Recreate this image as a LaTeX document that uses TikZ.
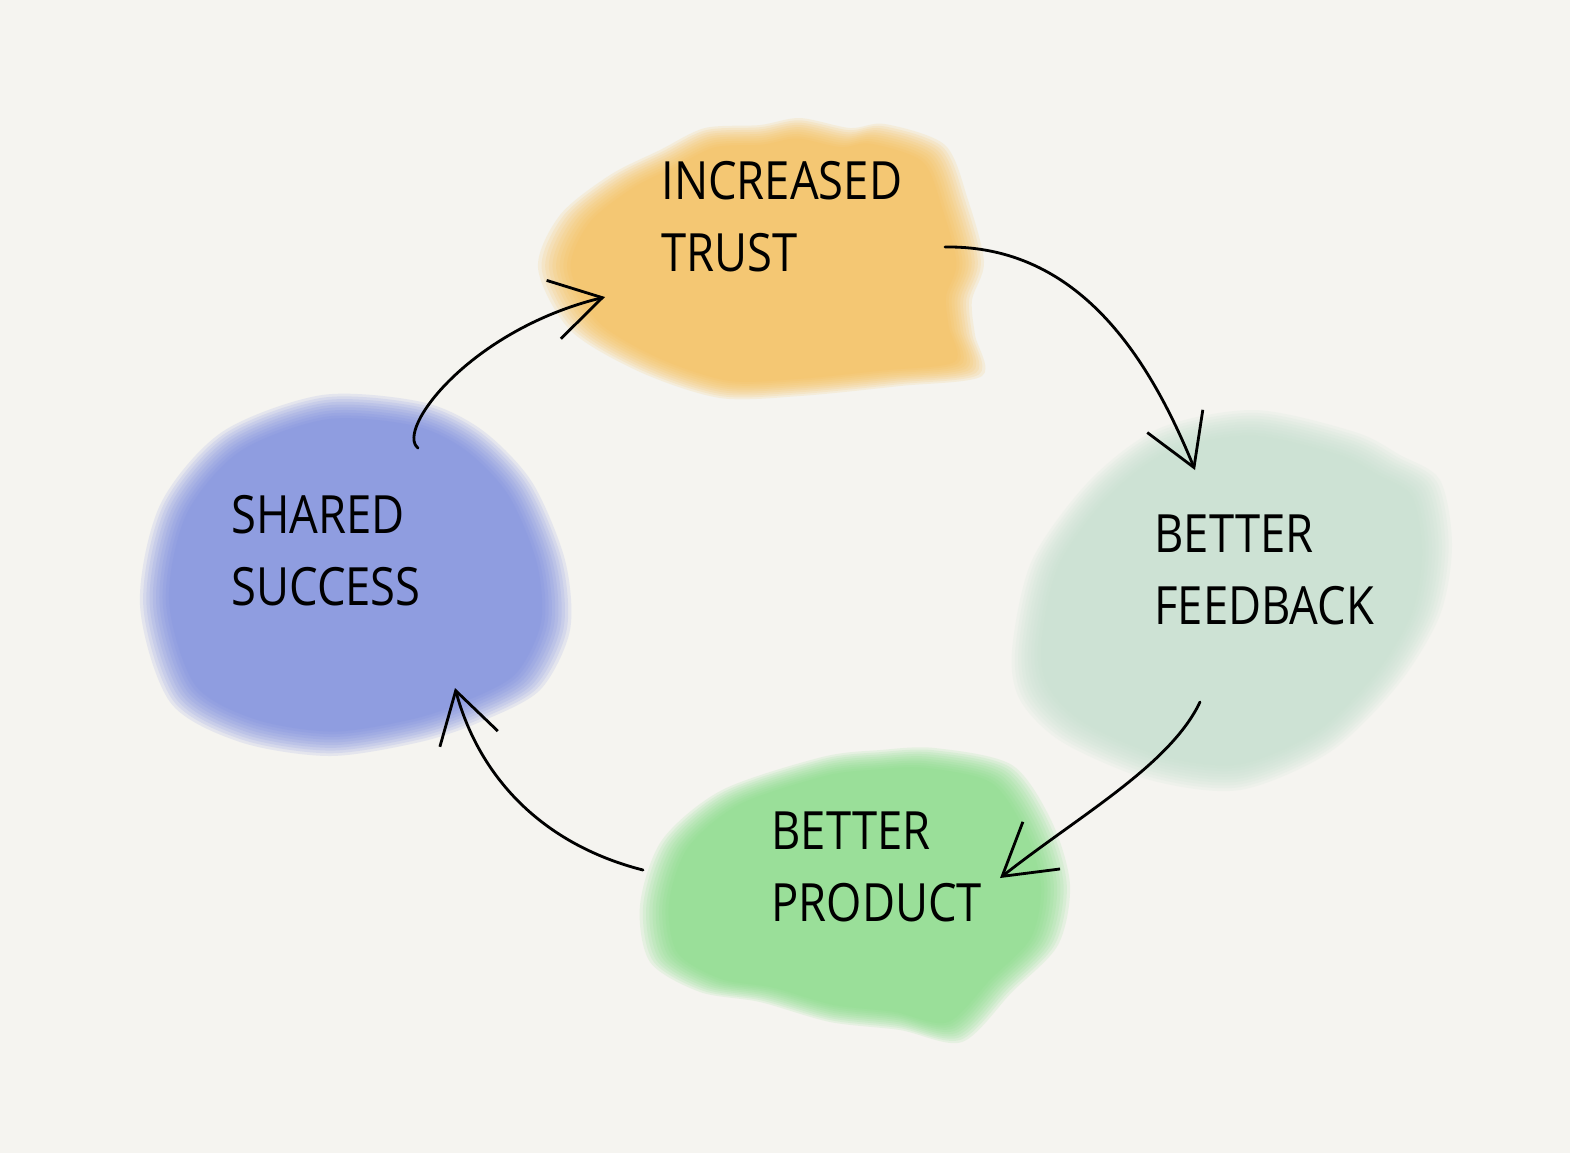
\documentclass[tikz,border=0pt]{standalone}
\usepackage{fontspec}
\setmainfont{Open Sans}[FakeStretch=0.86]
\usepackage{tikz}
\usetikzlibrary{positioning,arrows.meta}

\definecolor{paper}{HTML}{F5F4F0}
\definecolor{trustcol}{HTML}{F4BC4C}
\definecolor{feedcol}{HTML}{C4E0CE}
\definecolor{prodcol}{HTML}{80DC80}
\definecolor{succcol}{HTML}{7284DE}

\begin{document}
\begin{tikzpicture}[x=0.01cm, y=-0.01cm, line width=0.8pt]
		\tikzstyle{label}=[inner sep=0pt, align=left, anchor=north west, font=\fontsize{15}{20.5}\selectfont]
		\tikzstyle{link}=[-{Straight Barb[length=5mm,width=6mm]}, line cap=round]
		\tikzstyle{wash}=[fill opacity=0.13]
		\fill[paper] (0,0) rectangle (1570,1153);
		\useasboundingbox (0,0) rectangle (1570,1153);
		% watercolour blobs
		\foreach \s in {1.00,0.985,0.97,0.955,0.94,0.925,0.91,0.895,0.88,0.865}{
		\fill[trustcol, wash, scale around={\s:(780,270)}] plot[smooth cycle] coordinates
		{(538,268) (560,215) (610,175) (660,150) (705,128) (760,125) (800,118) (850,128) (885,124) (945,145) (968,200) (984,262) (972,300) (975,335) (982,376) (900,386) (800,396) (720,398) (640,372) (570,330)};
		\fill[feedcol, wash, scale around={\s:(1230,600)}] plot[smooth cycle] coordinates
		{(1012,650) (1032,560) (1090,480) (1160,428) (1255,410) (1355,432) (1400,455) (1440,480) (1452,545) (1440,615) (1398,685) (1330,752) (1240,790) (1150,780) (1062,742) (1020,700)};
		\fill[prodcol, wash, scale around={\s:(855,895)}] plot[smooth cycle] coordinates
		{(640,905) (662,840) (722,790) (822,757) (880,750) (935,748) (1012,765) (1052,822) (1070,885) (1058,945) (1012,992) (962,1042) (900,1030) (830,1022) (760,1002) (700,992) (650,962)};
		\fill[succcol, wash, scale around={\s:(355,575)}] plot[smooth cycle] coordinates
		{(140,605) (160,505) (222,432) (322,395) (422,402) (482,430) (532,482) (565,560) (570,630) (540,690) (480,722) (420,742) (330,756) (240,742) (170,702)};
		}
		% texts
		\node[label] (trust) at (660,160) {INCREASED\\TRUST};
		\node[label] (feedback) at (1153,513) {BETTER\\FEEDBACK};
		\node[label] (product) at (770,810) {BETTER\\PRODUCT};
		\node[label] (success) at (230,494) {SHARED\\SUCCESS};
		% ends of the arrows
		\coordinate (trust-out) at (945,247);
		\coordinate (feedback-in) at (1195,470);
		\coordinate (feedback-out) at (1200,702);
		\coordinate (product-in) at (1000,878);
		\coordinate (product-out) at (643,870);
		\coordinate (success-in) at (455,688);
		\coordinate (success-out) at (418,448);
		\coordinate (trust-in) at (605,297);
		\draw[link] (trust-out) .. controls (1080,245) and (1150,360) .. (feedback-in);
		\draw[link] (feedback-out) .. controls (1170,765) and (1080,815) .. (product-in);
		\draw[link] (product-out) .. controls (545,845) and (480,780) .. (success-in);
		\draw[link] (success-out) .. controls (395,430) and (470,330) .. (trust-in);
	\end{tikzpicture}
\end{document}
